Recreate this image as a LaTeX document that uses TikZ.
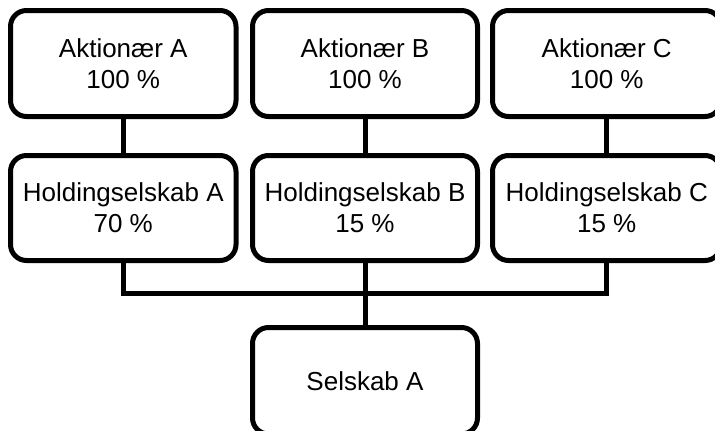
\documentclass[tikz,border=0pt]{standalone}
\usepackage{fontspec}
\setmainfont{Liberation Sans}
\begin{document}
\begin{tikzpicture}[x=1pt,y=-1pt,
  box/.style={draw, line width=5pt, rounded corners=16pt, align=center, inner sep=0pt,
    font=\fontsize{26}{31}\selectfont},
  conn/.style={line width=5pt, line join=miter}]
\useasboundingbox (0,0) rectangle (715,431);
\clip (0,0) rectangle (715,431);
% top row
\node[box, minimum width=225.5pt, minimum height=106pt] (a1) at (123.25,63.5) {Aktionær A\\100 \%};
\node[box, minimum width=225pt, minimum height=106pt] (a2) at (365,63.5) {Aktionær B\\100 \%};
\node[box, minimum width=228.5pt, minimum height=106pt] (a3) at (606.75,63.5) {Aktionær C\\100 \%};
% middle row
\node[box, minimum width=225.5pt, minimum height=105pt] (h1) at (123.25,208) {Holdingselskab A\\70 \%};
\node[box, minimum width=225pt, minimum height=105pt] (h2) at (365,208) {Holdingselskab B\\15 \%};
\node[box, minimum width=228.5pt, minimum height=105pt] (h3) at (606.75,208) {Holdingselskab C\\15 \%};
% bottom
\node[box, minimum width=225pt, minimum height=106.5pt] (s) at (365,380.75) {Selskab A};
% connectors
\draw[conn] (a1) -- (h1);
\draw[conn] (a2) -- (h2);
\draw[conn] (a3) -- (h3);
\coordinate (j) at (365,293.5);
\draw[conn] (h1.south) |- (j) -| (h3.south);
\draw[conn] (h2) -- (s);
\end{tikzpicture}
\end{document}
